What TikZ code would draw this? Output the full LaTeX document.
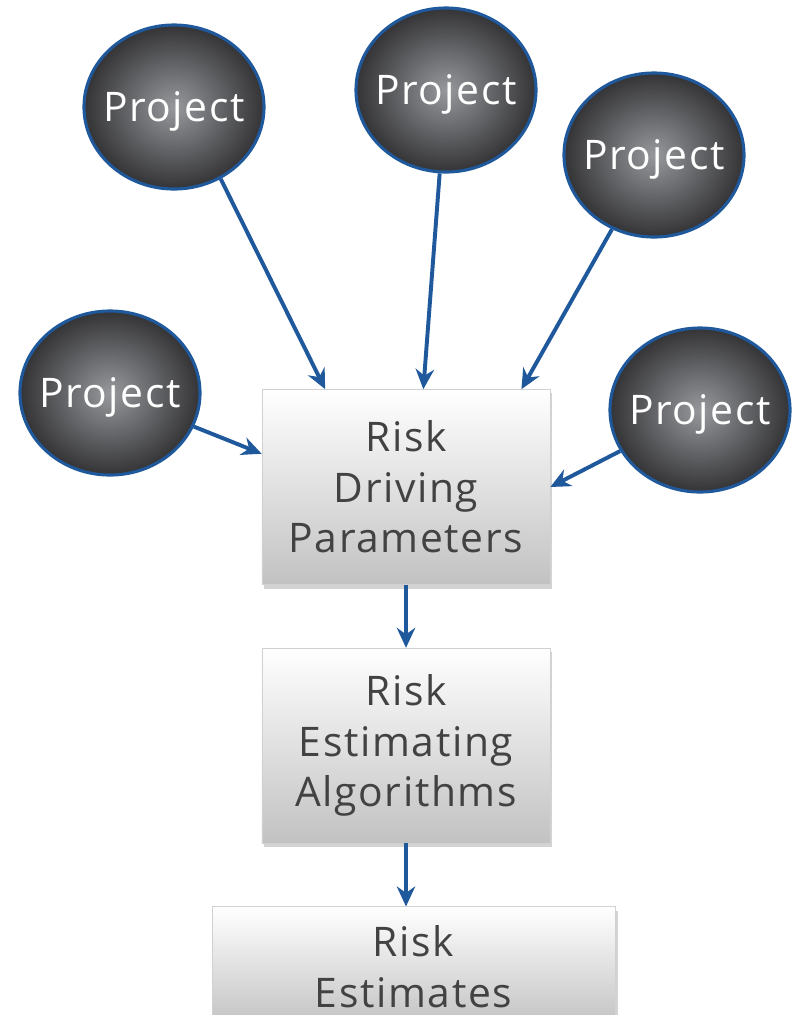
\documentclass[tikz,border=0pt]{standalone}
\usepackage{fontspec}
\setmainfont{Open Sans}[LetterSpace=4]
\usetikzlibrary{positioning, arrows.meta, calc, shapes.geometric, shadows}
\definecolor{projblue}{RGB}{31, 88, 155}
\definecolor{ballin}{RGB}{150, 152, 156}
\definecolor{ballout}{RGB}{52, 52, 54}
\definecolor{boxtext}{RGB}{66, 66, 66}
\newcommand{\riskfont}{\fontsize{29}{36}\selectfont}

\begin{document}
\begin{tikzpicture}[
    x=0.025cm, y=-0.025cm,
    project/.style={ellipse, draw=projblue, line width=2.2pt, inner color=ballin,
                    outer color=ballout, minimum width=4.5cm, minimum height=4.1cm,
                    inner xsep=-0.3cm, inner ysep=0pt, text height=21pt, text depth=0pt,
                    text=white, font=\riskfont},
    riskbox/.style={rectangle, draw=black!18, top color=white, bottom color=black!24,
                    drop shadow={opacity=0.35, shadow xshift=0.06cm, shadow yshift=-0.1cm},
                    minimum width=7.2cm, minimum height=4.875cm, align=center,
                    text=boxtext, font=\riskfont},
    arr/.style={-{Stealth[length=5mm, width=4.6mm]}, line width=2.8pt, color=projblue}
  ]
  \useasboundingbox (0,0) rectangle (794,1015);
  \clip (0,0) rectangle (794,1015);

  % Projects
  \node[project] (p1) at (174,107) {Project};
  \node[project] (p2) at (446,90) {Project};
  \node[project] (p3) at (654,155) {Project};
  \node[project] (p4) at (110,393) {Project};
  \node[project] (p5) at (700,410) {Project};

  % Risk chain
  \node[riskbox] (dp) at (406,487) {Risk\\Driving\\Parameters};
  \node[riskbox, below=1.575cm of dp] (ea) {Risk\\Estimating\\Algorithms};
  \node[riskbox, below=1.575cm of ea, xshift=0.19cm, minimum width=10.075cm,
        minimum height=3.0cm] (re) {Risk\\Estimates};

  % Arrows
  \draw[arr] (p1.-57) -- ($(dp.north west)!0.22!(dp.north east)$);
  \draw[arr] (p2) -- ($(dp.north west)!0.56!(dp.north east)$);
  \draw[arr] (p3) -- ($(dp.north west)!0.9!(dp.north east)$);
  \draw[arr] (p4) -- ($(dp.north west)!0.33!(dp.south west)$);
  \draw[arr] (p5) -- (dp.east);
  \draw[arr] (dp) -- (ea);
  \draw[arr] (ea) -- (ea |- re.north);
\end{tikzpicture}
\end{document}
